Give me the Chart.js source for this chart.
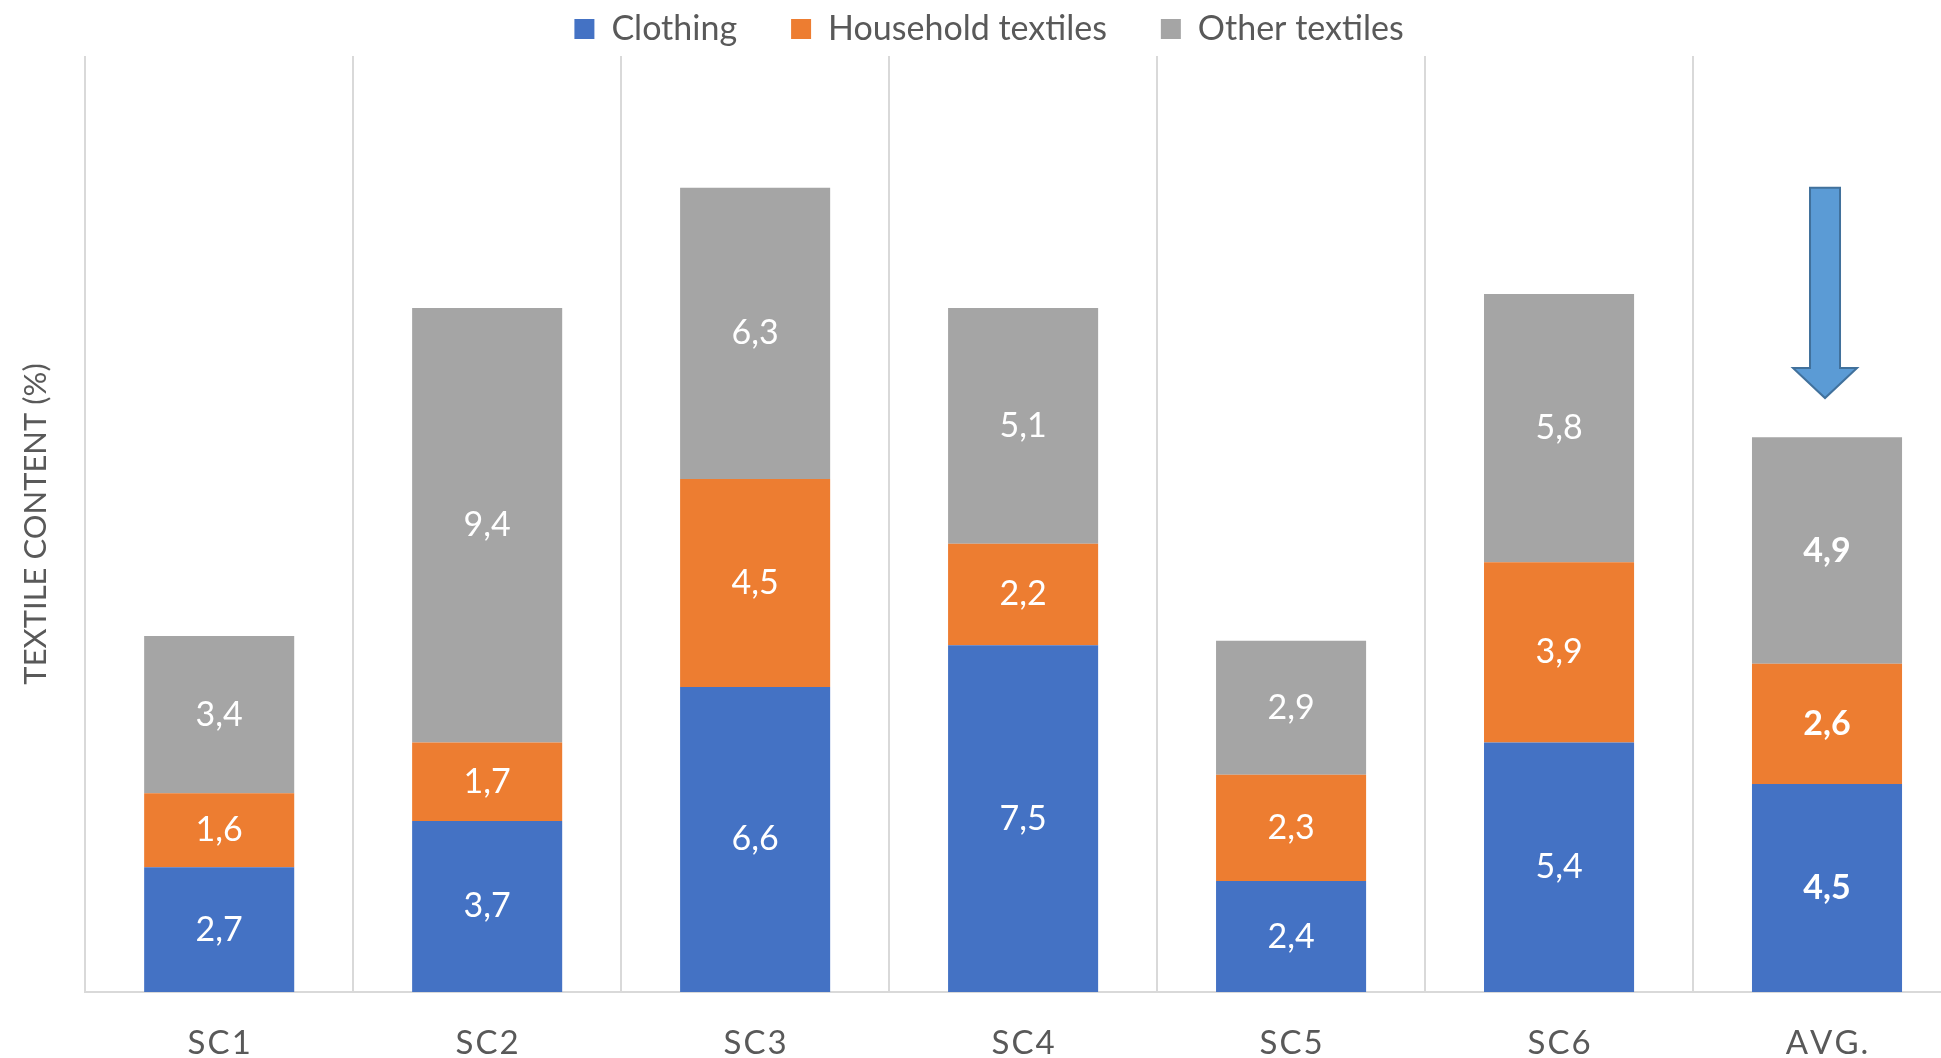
<!DOCTYPE html>
<html>
<head>
<meta charset="utf-8">
<script src="https://cdn.jsdelivr.net/npm/chart.js@4"></script>
<style>
  html, body { margin: 0; padding: 0; background: #fff; overflow: hidden; }
  #wrap { width: 1964px; height: 1058px; position: relative; }
</style>
</head>
<body>
<div id="wrap"><canvas id="chart"></canvas></div>
<script>
// data
const categories = ['SC1', 'SC2', 'SC3', 'SC4', 'SC5', 'SC6', 'AVG.'];
const clothing = [2.7, 3.7, 6.6, 7.5, 2.4, 5.4, 4.5];
const household = [1.6, 1.7, 4.5, 2.2, 2.3, 3.9, 2.6];
const other = [3.4, 9.4, 6.3, 5.1, 2.9, 5.8, 4.9];

// arrow over the AVG bar, in value units
const arrowTop = 17.4;
const arrowHeadStart = 13.5;
const arrowTip = 12.85;

const FONT = 'Lato, "Open Sans", sans-serif';
const GREY_TEXT = '#595959';

// white value labels in the middle of each segment
const segmentLabels = {
  id: 'segmentLabels',
  afterDatasetsDraw(chart) {
    const ctx = chart.ctx;
    ctx.save();
    ctx.fillStyle = '#ffffff';
    ctx.textAlign = 'center';
    ctx.textBaseline = 'middle';
    chart.data.datasets.forEach((ds, di) => {
      const meta = chart.getDatasetMeta(di);
      meta.data.forEach((bar, i) => {
        const bold = categories[i] === 'AVG.';
        ctx.font = (bold ? 'bold ' : '') + '34px ' + FONT;
        const y = (bar.y + bar.base) / 2;
        ctx.fillText(ds.data[i].toFixed(1).replace('.', ','), bar.x, y);
      });
    });
    ctx.restore();
  }
};

// blue down arrow above the average column
const arrowPlugin = {
  id: 'arrowPlugin',
  afterDatasetsDraw(chart) {
    const ctx = chart.ctx;
    const xs = chart.scales.x, ys = chart.scales.y;
    const cx = xs.getPixelForValue(categories.length - 1) - 2;
    const yTop = ys.getPixelForValue(arrowTop);
    const yHead = ys.getPixelForValue(arrowHeadStart);
    const yTip = ys.getPixelForValue(arrowTip);
    const shaft = 15, head = 32;
    ctx.save();
    ctx.beginPath();
    ctx.moveTo(cx - shaft, yTop);
    ctx.lineTo(cx + shaft, yTop);
    ctx.lineTo(cx + shaft, yHead);
    ctx.lineTo(cx + head, yHead);
    ctx.lineTo(cx, yTip);
    ctx.lineTo(cx - head, yHead);
    ctx.lineTo(cx - shaft, yHead);
    ctx.closePath();
    ctx.fillStyle = '#5b9bd5';
    ctx.fill();
    ctx.lineWidth = 2;
    ctx.strokeStyle = '#41719c';
    ctx.stroke();
    ctx.restore();
  }
};

new Chart(document.getElementById('chart'), {
  type: 'bar',
  data: {
    labels: categories,
    datasets: [
      { label: 'Clothing', data: clothing, backgroundColor: '#4472c4' },
      { label: 'Household textiles', data: household, backgroundColor: '#ed7d31' },
      { label: 'Other textiles', data: other, backgroundColor: '#a5a5a5' }
    ]
  },
  options: {
    responsive: true,
    maintainAspectRatio: false,
    animation: false,
    datasets: {
      bar: { barPercentage: 0.56, categoryPercentage: 1.0 }
    },
    layout: { padding: { left: 17, right: 3, top: -42, bottom: -37 } },
    plugins: {
      legend: {
        position: 'top',
        labels: {
          color: GREY_TEXT,
          font: { family: FONT, size: 34 },
          boxWidth: 20,
          boxHeight: 20,
          padding: 54
        }
      },
      tooltip: { enabled: false }
    },
    scales: {
      x: {
        stacked: true,
        grid: { color: '#d9d9d9', lineWidth: 2, drawTicks: false, offset: true },
        border: { color: '#d9d9d9', width: 2 },
        ticks: {
          color: GREY_TEXT,
          font: { family: FONT, size: 33, lineHeight: 1 },
          padding: 35,
          callback: function (value) {
            return this.getLabelForValue(value).split('').join('\u200A');
          }
        }
      },
      y: {
        stacked: true,
        min: 0,
        max: 20.25,
        grid: { display: false },
        border: { display: false },
        ticks: { display: false },
        title: {
          display: true,
          text: 'TEXTILE CONTENT (%)',
          color: GREY_TEXT,
          font: { family: FONT, size: 31 },
          padding: { top: 0, bottom: 23 }
        }
      }
    }
  },
  plugins: [segmentLabels, arrowPlugin]
});
</script>
</body>
</html>
